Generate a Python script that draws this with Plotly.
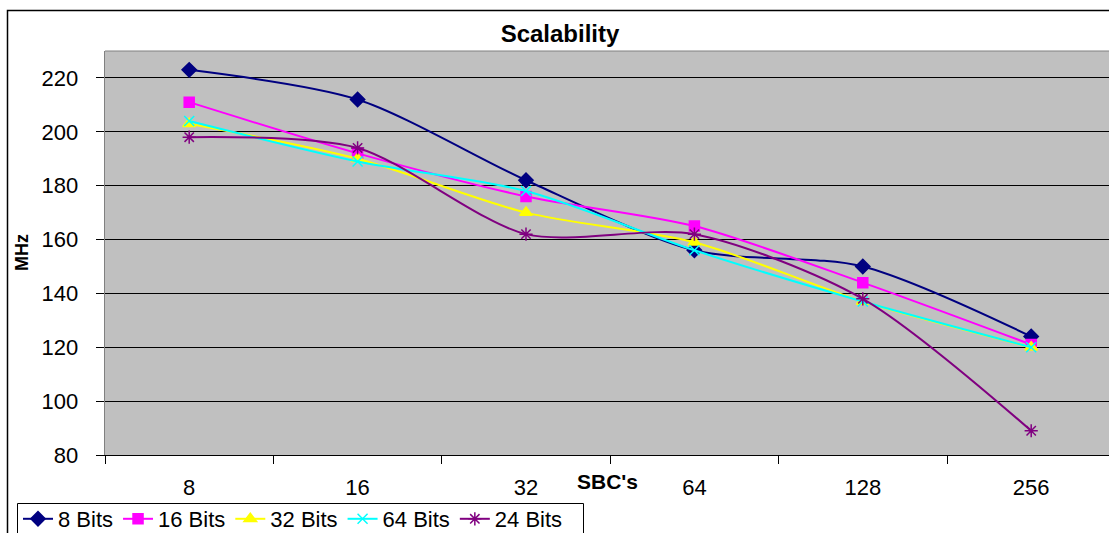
import plotly.graph_objects as go

# SBC count categories and clock frequency (MHz) per bus width
sbc_counts = ["8", "16", "32", "64", "128", "256"]
mhz_8_bits = [223, 212, 182, 156, 150, 124]
mhz_16_bits = [211, 192, 176, 165, 144, 121]
mhz_32_bits = [203, 190, 170, 159, 137, 120]
mhz_64_bits = [204, 189, 178, 156, 137, 120]
mhz_24_bits = [198, 194, 162, 162, 138, 89]
mhz_ticks = [80, 100, 120, 140, 160, 180, 200, 220]

series = [
    ("8 Bits", mhz_8_bits, "#000080", "diamond", 11),
    ("16 Bits", mhz_16_bits, "#FF00FF", "square", 10),
    ("32 Bits", mhz_32_bits, "#FFFF00", "triangle-up", 11),
    ("64 Bits", mhz_64_bits, "#00FFFF", "x-thin-open", 10),
    ("24 Bits", mhz_24_bits, "#800080", "asterisk-open", 11),
]

FONT = "Liberation Sans, Arial, sans-serif"

fig = go.Figure()
for name, vals, color, symbol, size in series:
    fig.add_trace(go.Scatter(
        x=sbc_counts, y=vals, name=name, mode="lines+markers",
        line=dict(color=color, width=2, shape="spline", smoothing=0.8),
        marker=dict(symbol=symbol, size=size, color=color,
                    line=dict(color=color, width=1.5)),
    ))

W, H = 1109, 533
ml, mt, mb = 105, 51, 78
pw, ph = W - ml, H - mt - mb

def px_x(x):
    return (x - ml) / pw

def px_y(y):
    return (H - mb - y) / ph

# blank padding after each y tick label, keeps the labels clear of the ticks
GAP = "<span style='color:rgba(0,0,0,0);font-size:12px'>00</span>"

fig.update_layout(
    width=W, height=H,
    margin=dict(l=ml, r=0, t=mt, b=mb, pad=0, autoexpand=False),
    paper_bgcolor="white",
    plot_bgcolor="#C0C0C0",
    font=dict(family=FONT, size=22, color="black"),
    title=dict(text="<b>Scalability</b>", x=560 / W, xanchor="center",
               y=1 - 34 / H, yanchor="middle",
               font=dict(family=FONT, size=24, color="black")),
    showlegend=True,
    legend=dict(orientation="h", x=px_x(18), y=px_y(498),
                xanchor="left", yanchor="top",
                borderwidth=0, bgcolor="rgba(0,0,0,0)",
                font=dict(family=FONT, size=22, color="black"),
                itemwidth=30, tracegroupgap=0),
    xaxis=dict(
        type="category", range=[-0.5, 5.462], automargin=False,
        tickson="boundaries", ticks="outside", ticklen=8, tickcolor="black",
        showline=True, linecolor="black", linewidth=1,
        showgrid=False, zeroline=False,
        tickfont=dict(family=FONT, size=22, color="black"),
        ticklabelstandoff=13,
        fixedrange=True,
    ),
    yaxis=dict(
        range=[80, 230], tickvals=mhz_ticks,
        ticktext=[f"{v}{GAP}" for v in mhz_ticks],
        automargin=False,
        ticks="outside", ticklen=8, tickcolor="black",
        showline=True, linecolor="#808080", linewidth=1,
        showgrid=True, gridcolor="black", gridwidth=1,
        zeroline=False,
        tickfont=dict(family=FONT, size=22, color="black"),
        fixedrange=True,
    ),
)

# plot-area top border
fig.add_shape(type="line", xref="paper", yref="paper", x0=0, x1=1, y0=1, y1=1,
              line=dict(color="#808080", width=1))

# chart outer frame
fig.add_shape(type="rect", xref="paper", yref="paper",
              x0=px_x(7.5), x1=px_x(W + 20), y0=px_y(H + 20), y1=px_y(10.5),
              line=dict(color="black", width=1.5), layer="below")

# legend frame
fig.add_shape(type="rect", xref="paper", yref="paper",
              x0=px_x(17.5), x1=px_x(583.5), y0=px_y(H + 15), y1=px_y(503.5),
              line=dict(color="black", width=1), layer="below")

fig.add_annotation(text="<b>SBC's</b>", xref="paper", yref="paper",
                   x=px_x(607), y=px_y(481), showarrow=False,
                   xanchor="center", yanchor="middle",
                   font=dict(family=FONT, size=21, color="black"))
fig.add_annotation(text="<b>MHz</b>", xref="paper", yref="paper",
                   x=px_x(22), y=px_y(253), showarrow=False, textangle=-90,
                   xanchor="center", yanchor="middle",
                   font=dict(family=FONT, size=18, color="black"))

fig.write_html("out.html")
